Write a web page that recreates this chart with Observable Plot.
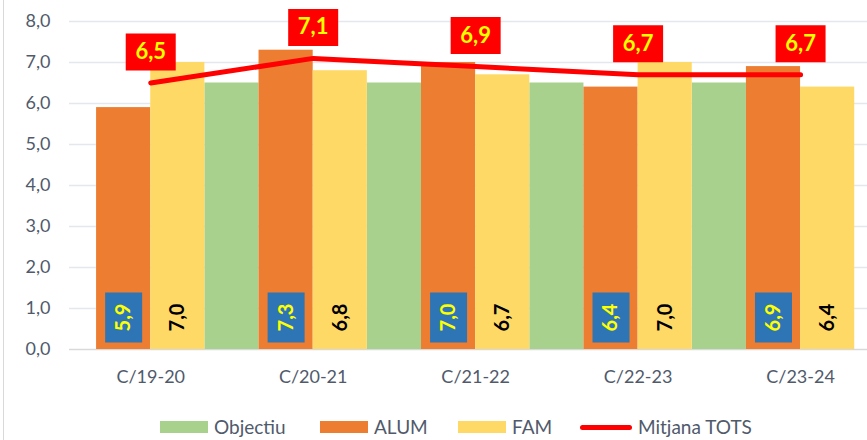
<!DOCTYPE html>
<html><head><meta charset="utf-8">
<script src="https://cdn.jsdelivr.net/npm/d3@7"></script>
<script src="https://cdn.jsdelivr.net/npm/@observablehq/plot@0.6"></script>
<style>
body{margin:0;background:#fff;font-family:Lato,"Open Sans",sans-serif;overflow:hidden;}
#wrap{position:relative;width:867px;height:440px;}
#border{position:absolute;left:3px;top:0;width:1px;height:440px;background:#D9D9D9;}
#legend{position:absolute;top:416px;left:0;width:867px;height:22px;}
.item{position:absolute;top:0;display:flex;align-items:center;height:22px;line-height:22px;font-size:19px;color:#505A6B;}
.sw{width:48px;height:12px;margin-right:6px;}
.ln{width:52px;height:5px;border-radius:3px;margin-right:6px;background:#FF0000;}
</style></head>
<body><div id="wrap"><div id="chart"></div><div id="border"></div><div id="legend"></div></div>
<script>
const categories = ["C/19-20","C/20-21","C/21-22","C/22-23","C/23-24"];
const objectiu = [null, 6.5, 6.5, 6.5, 6.5];
const alum = [5.9, 7.3, 7.0, 6.4, 6.9];
const fam = [7.0, 6.8, 6.7, 7.0, 6.4];
const mitjana = [6.5, 7.1, 6.9, 6.7, 6.7];
const yTicks = [0,1,2,3,4,5,6,7,8];

const colors = {Objectiu:"#A9D18E", ALUM:"#ED7D31", FAM:"#FFD966", line:"#FF0000", blue:"#2E75B6"};
const fmt = v => d3.format(".1f")(v).replace(".", ",");
const rows = categories.map((c,i)=>({i, c, obj:objectiu[i], alum:alum[i], fam:fam[i], mit:mitjana[i]}));
const w = 1/3;
const rectSym = (wd,ht) => ({draw(ctx){ctx.rect(-wd/2,-ht/2,wd,ht);}});

const chart = Plot.plot({
  width: 867, height: 416,
  marginLeft: 69, marginRight: 0, marginTop: 21, marginBottom: 67,
  style:{fontFamily:"Lato, 'Open Sans', sans-serif", fontSize:"18px", color:"#505A6B", background:"transparent"},
  x:{type:"linear", domain:[-0.5, 4.412], axis:null},
  y:{domain:[0,8], axis:null},
  marks:[
    Plot.ruleY(yTicks, {stroke:d=> d===0 ? "#D9D9D9" : "#E4E7EC", strokeWidth:1.5}),
    Plot.rect(rows.filter(d=>d.obj!=null), {x1:d=>d.i-2*w, x2:d=>d.i-w, y1:0, y2:"obj", fill:colors.Objectiu}),
    Plot.rect(rows, {x1:d=>d.i-w, x2:"i", y1:0, y2:"alum", fill:colors.ALUM}),
    Plot.rect(rows, {x1:"i", x2:d=>d.i+w, y1:0, y2:"fam", fill:colors.FAM}),
    Plot.axisY(yTicks, {tickSize:0, tickPadding:19, tickFormat:fmt, fill:"#505A6B", fontSize:18, stroke:null, label:null}),
    Plot.axisX([0,1,2,3,4], {tickSize:0, tickPadding:21, tickFormat:i=>categories[i], fill:"#505A6B", fontSize:18, stroke:null, label:null}),
    Plot.line(rows, {x:"i", y:"mit", stroke:colors.line, strokeWidth:5, strokeLinecap:"round", strokeLinejoin:"round"}),
    // ALUM labels (blue boxes)
    Plot.dot(rows, {x:d=>d.i-w/2, y:0, dy:-32, symbol:rectSym(37,50), fill:colors.blue, stroke:null}),
    Plot.text(rows, {x:d=>d.i-w/2, y:0, dy:-32, text:d=>fmt(d.alum), rotate:-90, fill:"#FFFF00", fontSize:20, fontWeight:"bold"}),
    // FAM labels
    Plot.text(rows, {x:d=>d.i+w/2, y:0, dy:-32, text:d=>fmt(d.fam), rotate:-90, fill:"#000", fontSize:20, fontWeight:"bold"}),
    // Mitjana labels (red boxes)
    Plot.dot(rows, {x:"i", y:"mit", dy:-31, symbol:rectSym(50,37), fill:"#FF0000", stroke:null}),
    Plot.text(rows, {x:"i", y:"mit", dy:-31, text:d=>fmt(d.mit), fill:"#FFFF00", fontSize:22, fontWeight:"bold"})
  ]
});
document.getElementById("chart").appendChild(chart);

const legendItems = [
  {name:"Objectiu", type:"sw", color:colors.Objectiu, left:160},
  {name:"ALUM", type:"sw", color:colors.ALUM, left:320},
  {name:"FAM", type:"sw", color:colors.FAM, left:458},
  {name:"Mitjana TOTS", type:"ln", color:colors.line, left:580}
];
const lg = document.getElementById("legend");
for (const it of legendItems){
  const d = document.createElement("div"); d.className="item"; d.style.left=it.left+"px";
  const s = document.createElement("div"); s.className=it.type; if(it.type==="sw") s.style.background=it.color;
  const t = document.createElement("span"); t.textContent=it.name;
  d.appendChild(s); d.appendChild(t); lg.appendChild(d);
}
</script></body></html>
